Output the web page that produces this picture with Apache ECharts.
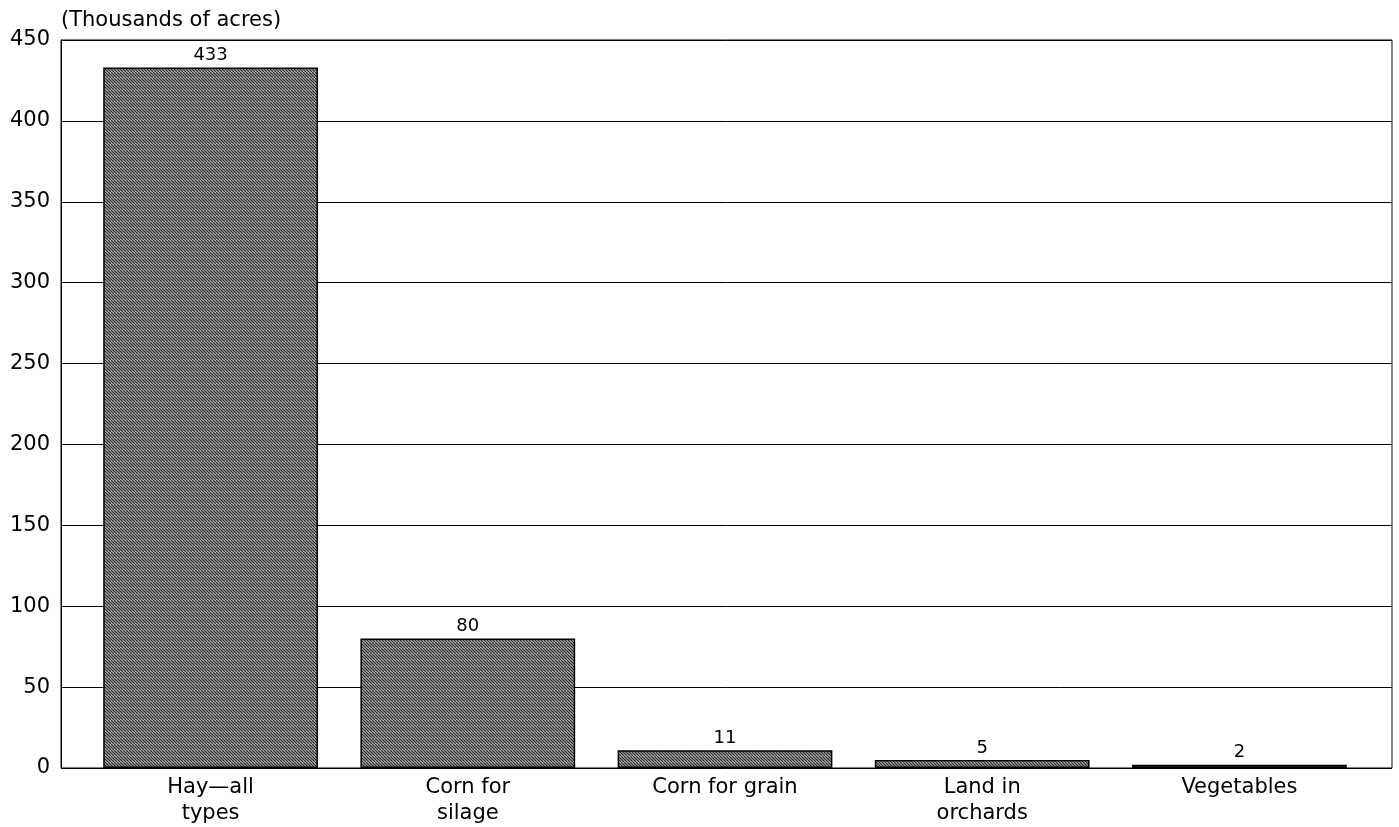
<!DOCTYPE html>
<html>
<head>
<meta charset="utf-8">
<script src="https://cdn.jsdelivr.net/npm/echarts@6/dist/echarts.min.js"></script>
<style>
html,body{margin:0;padding:0;background:#fff;}
#chart{width:1399px;height:827px;}
</style>
</head>
<body>
<div id="chart"></div>
<script>
const categories = ['Hay\u2014all\ntypes', 'Corn for\nsilage', 'Corn for grain', 'Land in\norchards', 'Vegetables'];
const acres = [433, 80, 11, 5, 2];
const yTicks = { min: 0, max: 450, interval: 50 };
const unitLabel = '(Thousands of acres)';

function makePattern() {
  const c = document.createElement('canvas');
  c.width = 6; c.height = 6;
  const ctx = c.getContext('2d');
  ctx.fillStyle = '#d4d4d4';
  ctx.fillRect(0, 0, 6, 6);
  ctx.strokeStyle = '#2c2c2c';
  ctx.lineWidth = 1.3;
  for (let k = -6; k <= 12; k += 3) {
    ctx.beginPath();
    ctx.moveTo(k, 0);
    ctx.lineTo(k + 6, 6);
    ctx.stroke();
  }
  return c;
}

const font = 'DejaVu Sans, Verdana, sans-serif';
const chart = echarts.init(document.getElementById('chart'));
chart.setOption({
  animation: false,
  backgroundColor: '#fff',
  grid: [
    { left: 61, right: 7, top: 40, bottom: 59, show: true, borderColor: '#000', borderWidth: 1, backgroundColor: 'transparent' },
    { left: 82, right: 31, top: 40, bottom: 59 }
  ],
  xAxis: [
    { type: 'category', gridIndex: 0, data: ['a'], show: false },
    {
      type: 'category', gridIndex: 1, data: categories,
      axisLine: { show: false }, axisTick: { show: false },
      axisLabel: { color: '#000', fontSize: 21, fontFamily: font, lineHeight: 26, margin: 7, interval: 0 }
    }
  ],
  yAxis: [
    {
      type: 'value', gridIndex: 0, min: yTicks.min, max: yTicks.max, interval: yTicks.interval,
      name: unitLabel, nameLocation: 'end', nameGap: 9,
      nameTextStyle: { color: '#000', fontSize: 21, fontFamily: font, align: 'left', padding: [0, 0, 0, 0] },
      axisLine: { show: true, lineStyle: { color: '#000', width: 1 } },
      axisTick: { show: false },
      axisLabel: { color: '#000', fontSize: 21, fontFamily: font, margin: 11 },
      splitLine: { show: true, lineStyle: { color: '#000', width: 1 } }
    },
    { type: 'value', gridIndex: 1, min: yTicks.min, max: yTicks.max, interval: yTicks.interval, show: false, splitLine: { show: false } }
  ],
  series: [{
    type: 'bar', xAxisIndex: 1, yAxisIndex: 1, data: acres,
    barWidth: '83.5%',
    itemStyle: { color: { image: makePattern(), repeat: 'repeat' }, borderColor: '#000', borderWidth: 1.5 },
    label: { show: true, position: 'top', distance: 3, color: '#000', fontSize: 18, fontFamily: font }
  }]
});
</script>
</body>
</html>
